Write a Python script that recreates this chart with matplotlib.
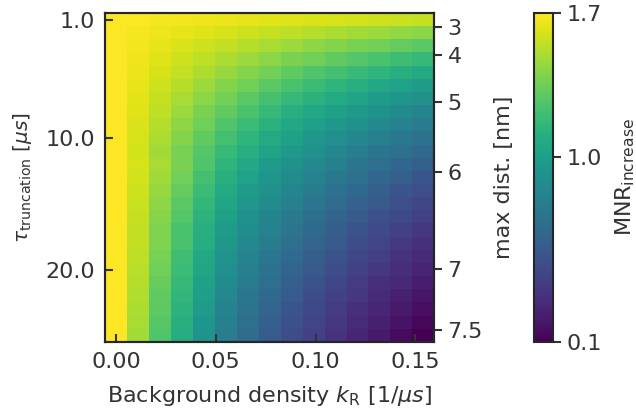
import numpy as np
import matplotlib.pyplot as plt

# background density k_R [1/us] (columns) and truncation time [us] (rows)
k_R = [0.000, 0.011, 0.022, 0.033, 0.044, 0.055, 0.066, 0.077,
       0.088, 0.099, 0.110, 0.121, 0.132, 0.143, 0.154]
tau_trunc = list(range(1, 26))

# MNR increase, one row per truncation time
mnr_increase = [
    [1.70, 1.69, 1.68, 1.67, 1.66, 1.65, 1.64, 1.63, 1.62, 1.61, 1.60, 1.59, 1.58, 1.57, 1.56],
    [1.70, 1.68, 1.66, 1.64, 1.62, 1.60, 1.58, 1.56, 1.54, 1.52, 1.50, 1.48, 1.46, 1.44, 1.42],
    [1.70, 1.67, 1.64, 1.61, 1.58, 1.55, 1.52, 1.49, 1.46, 1.43, 1.40, 1.37, 1.35, 1.32, 1.29],
    [1.70, 1.66, 1.62, 1.58, 1.54, 1.50, 1.46, 1.42, 1.38, 1.35, 1.31, 1.27, 1.24, 1.20, 1.17],
    [1.70, 1.65, 1.60, 1.55, 1.50, 1.45, 1.40, 1.36, 1.31, 1.26, 1.22, 1.18, 1.14, 1.11, 1.07],
    [1.70, 1.64, 1.58, 1.52, 1.46, 1.40, 1.35, 1.29, 1.24, 1.19, 1.14, 1.10, 1.06, 1.02, 0.98],
    [1.70, 1.63, 1.56, 1.49, 1.42, 1.36, 1.29, 1.23, 1.17, 1.12, 1.07, 1.03, 0.98, 0.94, 0.90],
    [1.70, 1.62, 1.54, 1.46, 1.38, 1.31, 1.24, 1.17, 1.11, 1.06, 1.01, 0.96, 0.91, 0.87, 0.83],
    [1.70, 1.61, 1.52, 1.43, 1.35, 1.26, 1.19, 1.12, 1.06, 1.00, 0.95, 0.90, 0.85, 0.80, 0.76],
    [1.70, 1.60, 1.50, 1.40, 1.31, 1.22, 1.14, 1.07, 1.01, 0.95, 0.89, 0.84, 0.79, 0.74, 0.70],
    [1.70, 1.59, 1.48, 1.37, 1.27, 1.18, 1.10, 1.03, 0.96, 0.90, 0.84, 0.78, 0.73, 0.69, 0.64],
    [1.70, 1.60, 1.49, 1.38, 1.26, 1.14, 1.06, 0.98, 0.91, 0.85, 0.79, 0.73, 0.68, 0.63, 0.58],
    [1.70, 1.59, 1.47, 1.35, 1.22, 1.11, 1.02, 0.94, 0.87, 0.80, 0.74, 0.69, 0.63, 0.58, 0.53],
    [1.70, 1.58, 1.45, 1.32, 1.19, 1.07, 0.98, 0.90, 0.83, 0.76, 0.70, 0.64, 0.58, 0.53, 0.48],
    [1.70, 1.57, 1.43, 1.29, 1.16, 1.04, 0.95, 0.87, 0.79, 0.72, 0.66, 0.59, 0.54, 0.48, 0.44],
    [1.70, 1.56, 1.41, 1.27, 1.13, 1.01, 0.91, 0.83, 0.75, 0.68, 0.61, 0.55, 0.49, 0.45, 0.40],
    [1.70, 1.55, 1.39, 1.24, 1.10, 0.97, 0.88, 0.80, 0.72, 0.64, 0.57, 0.51, 0.46, 0.41, 0.36],
    [1.70, 1.55, 1.39, 1.24, 1.09, 0.95, 0.85, 0.76, 0.68, 0.61, 0.54, 0.47, 0.42, 0.37, 0.32],
    [1.70, 1.54, 1.37, 1.21, 1.06, 0.92, 0.82, 0.73, 0.65, 0.57, 0.50, 0.44, 0.39, 0.33, 0.29],
    [1.70, 1.53, 1.35, 1.19, 1.04, 0.89, 0.79, 0.70, 0.61, 0.54, 0.47, 0.41, 0.35, 0.30, 0.26],
    [1.70, 1.52, 1.33, 1.17, 1.01, 0.87, 0.76, 0.67, 0.58, 0.51, 0.44, 0.38, 0.32, 0.28, 0.22],
    [1.70, 1.51, 1.31, 1.15, 0.99, 0.84, 0.73, 0.64, 0.55, 0.47, 0.41, 0.35, 0.29, 0.24, 0.19],
    [1.70, 1.50, 1.30, 1.13, 0.97, 0.81, 0.71, 0.61, 0.52, 0.45, 0.38, 0.32, 0.27, 0.21, 0.16],
    [1.70, 1.49, 1.28, 1.11, 0.94, 0.79, 0.68, 0.58, 0.49, 0.42, 0.35, 0.29, 0.24, 0.18, 0.13],
    [1.70, 1.48, 1.26, 1.09, 0.92, 0.77, 0.66, 0.56, 0.47, 0.40, 0.33, 0.27, 0.21, 0.15, 0.10],
]

tau_ticks = [1.0, 10.0, 20.0]
k_ticks = [0.00, 0.05, 0.10, 0.15]
dist_ticks = [3, 4, 5, 6, 7, 7.5]
dist_labels = ["3", "4", "5", "6", "7", "7.5"]
cbar_ticks = [0.1, 1.0, 1.7]

# r_max [nm] = DIST_SCALE * tau^(1/3)
DIST_SCALE = 2.58

plt.rcParams.update({
    "font.size": 16,
    "text.color": "#333333",
    "axes.labelcolor": "#333333",
    "xtick.color": "#333333",
    "ytick.color": "#333333",
    "axes.edgecolor": "#262626",
    "axes.linewidth": 1.5,
})

fig = plt.figure(figsize=(6.36, 4.17), dpi=100)
ax = fig.add_axes([0.165, 0.180, 0.518, 0.789])
cax = fig.add_axes([0.840, 0.180, 0.030, 0.789])

vals = np.array(mnr_increase)
mesh = ax.pcolormesh(k_R, tau_trunc, vals, shading="nearest",
                     cmap="viridis", vmin=0.1, vmax=1.7)
ax.set_ylim(tau_trunc[-1] + 0.5, tau_trunc[0] - 0.5)

ax.set_xticks(k_ticks)
ax.set_xticklabels([f"{t:.2f}" for t in k_ticks])
ax.set_yticks(tau_ticks)
ax.set_yticklabels([f"{t:.1f}" for t in tau_ticks])
ax.tick_params(direction="in", length=6, width=1.5, pad=7)
ax.set_xlabel(r"Background density $k_\mathrm{R}$ [1/$\mu s$]", labelpad=9)
ax.set_ylabel(r"$\tau_\mathrm{truncation}$ [$\mu s$]", fontsize=14.5, labelpad=8)

# secondary axis: maximum resolvable distance for each truncation time
ax2 = ax.twinx()
ax2.set_ylim(ax.get_ylim())
ax2.set_yticks([(d / DIST_SCALE) ** 3 for d in dist_ticks])
ax2.set_yticklabels(dist_labels)
ax2.tick_params(direction="out", length=6, width=1.5)
ax2.set_ylabel("max dist. [nm]", labelpad=8)

cb = fig.colorbar(mesh, cax=cax, ticks=cbar_ticks)
cb.set_ticklabels([f"{t:.1f}" for t in cbar_ticks])
cb.ax.tick_params(direction="out", length=6, width=1.5)
cb.outline.set_linewidth(1.5)
cb.set_label(r"$\mathrm{MNR}_\mathrm{increase}$", labelpad=8)

fig.savefig("out.png", dpi=100)
